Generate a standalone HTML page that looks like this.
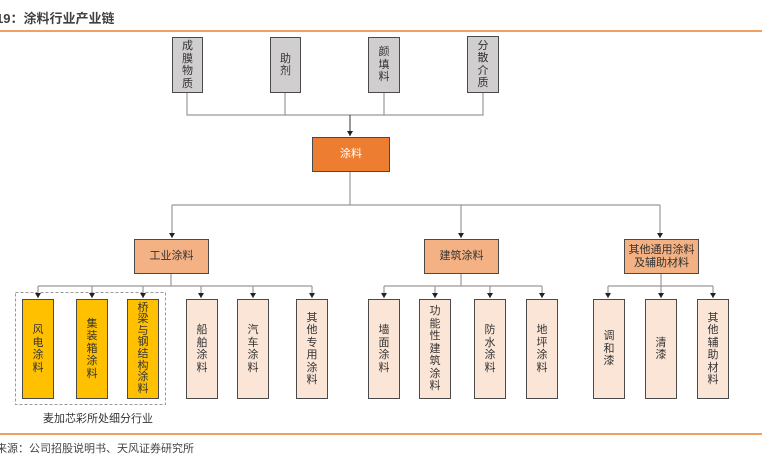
<!DOCTYPE html>
<html><head><meta charset="utf-8"><style>
body{margin:0;width:762px;height:450px;position:relative;background:#fff;overflow:hidden;font-family:"Liberation Sans","Noto Sans CJK SC",sans-serif;}
.b{position:absolute;box-sizing:border-box;border:1.5px solid #4a4a4a;display:flex;align-items:center;justify-content:center;text-align:center;font-size:11px;line-height:12.5px;color:#333;}
.g{background:#d0cece}.o{background:#ed7d31}.l{background:#f4b183}.p{background:#fbe5d6}.y{background:#ffc000}
.t{position:absolute;white-space:nowrap;color:#333;}
</style></head><body>
<div class="t" style="left:-4px;top:8px;font-size:13px;font-weight:bold;color:#404040">19：涂料行业产业链</div>
<div style="position:absolute;left:0;top:30px;width:762px;height:2px;background:#f0a060"></div>
<div style="position:absolute;left:0;top:433px;width:762px;height:2px;background:#f0a060"></div>
<div class="t" style="left:-4px;top:440px;font-size:11px;color:#444">来源：公司招股说明书、天风证券研究所</div>
<svg width="762" height="450" style="position:absolute;left:0;top:0">
<defs><marker id="a" markerWidth="6" markerHeight="6" refX="5" refY="3" orient="auto" markerUnits="userSpaceOnUse"><path d="M0,0 L5,3 L0,6 z" fill="#222"/></marker></defs>
<g stroke="#999" stroke-width="1.2" fill="none">
<path d="M187,92V115H483V92 M285,92V115 M384,92V115"/>
<path d="M350,115V136" stroke="#555" marker-end="url(#a)"/>
<path d="M350,171V205H660 M172,205H350"/>
<path d="M172,205V238" marker-end="url(#a)"/>
<path d="M461,205V238" marker-end="url(#a)"/>
<path d="M660,205V238" marker-end="url(#a)"/>
<path d="M171,273V286 M38,286H312"/>
<path d="M38,286V298" marker-end="url(#a)"/><path d="M92,286V298" marker-end="url(#a)"/><path d="M143,286V298" marker-end="url(#a)"/><path d="M201,286V298" marker-end="url(#a)"/><path d="M253,286V298" marker-end="url(#a)"/><path d="M312,286V298" marker-end="url(#a)"/>
<path d="M461,273V286 M384,286H542"/>
<path d="M384,286V298" marker-end="url(#a)"/><path d="M435,286V298" marker-end="url(#a)"/><path d="M490,286V298" marker-end="url(#a)"/><path d="M542,286V298" marker-end="url(#a)"/>
<path d="M608,286H713"/>
<path d="M608,286V298" marker-end="url(#a)"/><path d="M661,273V298" marker-end="url(#a)"/><path d="M713,286V298" marker-end="url(#a)"/>
</g>
<rect x="15.5" y="292.5" width="150" height="112" fill="none" stroke="#999" stroke-dasharray="3,2"/>
</svg>
<div class="b g" style="left:172px;top:37px;width:31px;height:56px">成<br>膜<br>物<br>质</div>
<div class="b g" style="left:270px;top:37px;width:31px;height:56px">助<br>剂</div>
<div class="b g" style="left:368px;top:37px;width:32px;height:56px">颜<br>填<br>料</div>
<div class="b g" style="left:467px;top:36px;width:32px;height:57px">分<br>散<br>介<br>质</div>
<div class="b o" style="left:312px;top:137px;width:78px;height:35px;color:#fff">涂料</div>
<div class="b l" style="left:134px;top:239px;width:75px;height:35px">工业涂料</div>
<div class="b l" style="left:424px;top:239px;width:75px;height:35px">建筑涂料</div>
<div class="b l" style="left:624px;top:239px;width:75px;height:35px;line-height:13px">其他通用涂料<br>及辅助材料</div>
<div class="b y" style="left:22px;top:299px;width:32px;height:100px">风<br>电<br>涂<br>料</div>
<div class="b y" style="left:76px;top:299px;width:32px;height:100px">集<br>装<br>箱<br>涂<br>料</div>
<div class="b y" style="left:127px;top:299px;width:32px;height:100px;line-height:11.6px">桥<br>梁<br>与<br>钢<br>结<br>构<br>涂<br>料</div>
<div class="b p" style="left:186px;top:299px;width:32px;height:100px">船<br>舶<br>涂<br>料</div>
<div class="b p" style="left:237px;top:299px;width:32px;height:100px">汽<br>车<br>涂<br>料</div>
<div class="b p" style="left:296px;top:299px;width:32px;height:100px">其<br>他<br>专<br>用<br>涂<br>料</div>
<div class="b p" style="left:368px;top:299px;width:32px;height:100px">墙<br>面<br>涂<br>料</div>
<div class="b p" style="left:419px;top:299px;width:32px;height:100px">功<br>能<br>性<br>建<br>筑<br>涂<br>料</div>
<div class="b p" style="left:474px;top:299px;width:32px;height:100px">防<br>水<br>涂<br>料</div>
<div class="b p" style="left:526px;top:299px;width:32px;height:100px">地<br>坪<br>涂<br>料</div>
<div class="b p" style="left:593px;top:299px;width:32px;height:100px">调<br>和<br>漆</div>
<div class="b p" style="left:645px;top:299px;width:32px;height:100px">清<br>漆</div>
<div class="b p" style="left:697px;top:299px;width:32px;height:100px">其<br>他<br>辅<br>助<br>材<br>料</div>
<div class="t" style="left:43px;top:410px;font-size:11px">麦加芯彩所处细分行业</div>
</body></html>
